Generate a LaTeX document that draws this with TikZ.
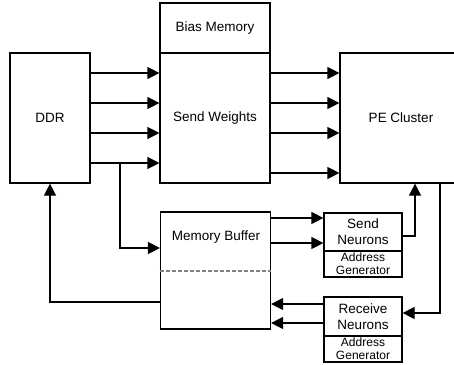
\documentclass[tikz,border=0pt]{standalone}
\usepackage{fontspec}
\setmainfont{Liberation Sans}
\usetikzlibrary{arrows.meta}
\begin{document}
\begin{tikzpicture}[x=1pt,y=-1pt,
  box/.style={draw,line width=1.2pt,inner sep=0pt,font=\fontsize{13.5}{16}\selectfont,align=center},
  agbox/.style={draw,line width=1.2pt,inner sep=0pt,minimum width=78pt,minimum height=26pt,font=\fontsize{12}{13}\selectfont,align=center},
  arr/.style={line width=1.2pt,-{Triangle[length=12pt,width=12pt]}},
  ln/.style={line width=1.2pt}]
\useasboundingbox (0,0) rectangle (454,364);
\clip (0,0) rectangle (454,364);
\node[box,minimum width=80pt,minimum height=130pt] (ddr) at (50,118) {DDR};
\node[box,minimum width=110pt,minimum height=50pt] (bias) at (215,28) {Bias Memory};
\node[box,minimum width=110pt,minimum height=130pt] (sw) at (215,118) {Send Weights};
\node[box,minimum width=120pt,minimum height=130pt] (pe) at (400,118) {};
\node[font=\fontsize{13.5}{16}\selectfont] (pelabel) at (401,118) {PE Cluster};
\node[box,minimum width=110pt,minimum height=117pt] (mb) at (215.5,270.5) {};
\node[font=\fontsize{13.5}{16}\selectfont] (mblabel) at (216,237) {Memory Buffer};
\draw[ln,dashed,gray,dash pattern=on 4pt off 2pt] (mb.west |- 0,271) -- (mb.east |- 0,271);
\node[box,minimum width=78pt,minimum height=38pt] (sn) at (363,232) {Send\\Neurons};
\node[agbox] (snag) at (363,264) {Address\\Generator};
\node[box,minimum width=78pt,minimum height=39pt] (rn) at (363,316.5) {Receive\\Neurons};
\node[agbox] (rnag) at (363,349) {Address\\Generator};
\foreach \yy in {73,103,133,163}{
  \draw[arr] (ddr.east |- 0,\yy) -- (sw.west |- 0,\yy);}
\foreach \yy in {73,103,133,173}{
  \draw[arr] (sw.east |- 0,\yy) -- (pe.west |- 0,\yy);}
\coordinate (br) at (120,163);
\draw[arr] (br) |- (mb.west |- 0,248);
\draw[arr] (mb.west |- 0,302) -| (ddr.south -| 50,0);
\draw[arr] (mb.east |- 0,218) -- (sn.west |- 0,218);
\draw[arr] (mb.east |- 0,243) -- (sn.west |- 0,243);
\draw[arr] (sn.east |- 0,236) -| (pe.south -| 415,0);
\draw[arr] (pe.south -| 440,0) |- (rn.east |- 0,313);
\draw[arr] (rn.west |- 0,304) -- (mb.east |- 0,304);
\draw[arr] (rn.west |- 0,323) -- (mb.east |- 0,323);
\end{tikzpicture}
\end{document}
